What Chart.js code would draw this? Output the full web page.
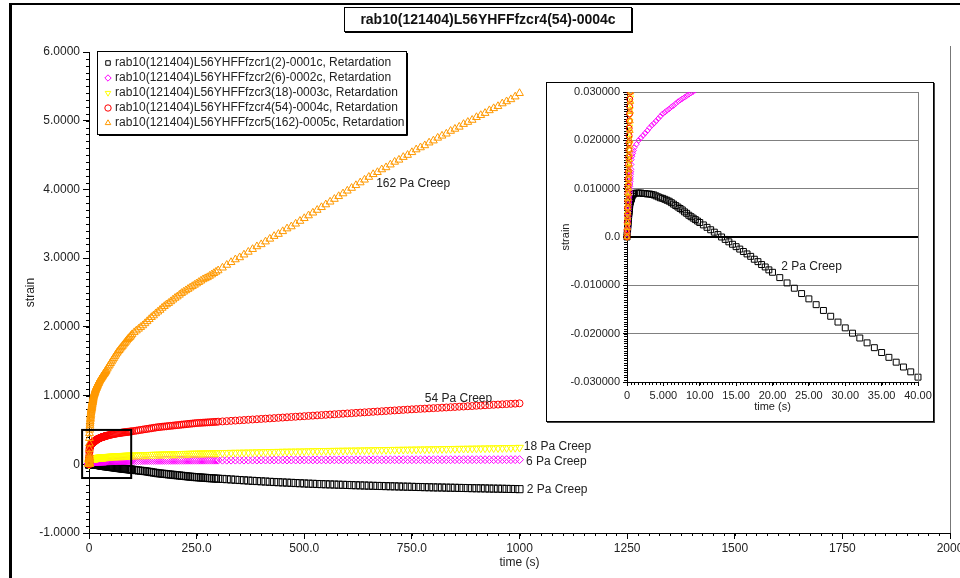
<!DOCTYPE html>
<html>
<head>
<meta charset="utf-8">
<script src="https://cdn.jsdelivr.net/npm/chart.js"></script>
<style>
  body { margin: 0; background: #fff; }
  #wrap { position: relative; width: 960px; height: 578px; overflow: hidden; background: #fff; }
  #frame { position: absolute; left: 9px; top: 3px; width: 980px; height: 600px;
           border-left: 3px solid #000; border-top: 2px solid #000; }
  #title { position: absolute; left: 344px; top: 7px; width: 286px; height: 23px;
           border: 1px solid #000; box-shadow: 1px 1px 0 #000; background: #fff;
           font: bold 14px "Liberation Sans", Arial, sans-serif; color: #111;
           text-align: center; line-height: 23px; }
  #main { position: absolute; left: 0; top: 0; }
  #insetBox { position: absolute; left: 546px; top: 82px; width: 386px; height: 338px;
              border: 1px solid #000; box-shadow: 1px 1px 0 #444; background: #fff; }
  #inset { position: absolute; left: 0; top: 0; }
</style>
</head>
<body>
<div id="wrap">
  <canvas id="main" width="960" height="578"></canvas>
  <div id="frame"></div>
  <div id="title">rab10(121404)L56YHFFfzcr4(54)-0004c</div>
  <div id="insetBox"><canvas id="inset" width="386" height="338"></canvas></div>
</div>
<script>
// time (s), shared by all five runs
const timeS = [0, 0.02, 0.04, 0.06, 0.08, 0.1, 0.12, 0.14, 0.16, 0.18, 0.2, 0.22, 0.24, 0.26, 0.28, 0.3,
  0.32, 0.34, 0.36, 0.38, 0.4, 0.42, 0.44, 0.46, 0.48, 0.5, 0.52, 0.54, 0.56, 0.58, 0.6,
  0.7, 0.8, 0.9, 1,
  1.3, 1.6, 1.9, 2.2, 2.5, 2.8, 3.1, 3.4, 3.7, 4, 4.3, 4.6, 4.9, 5.2, 5.5,
  5.8, 6.1, 6.4, 6.7, 7, 7.3, 7.6, 7.9, 8.2, 8.5, 8.8, 9.1, 9.4, 9.7, 10,
  10.5, 11, 11.5, 12, 12.5, 13, 13.5, 14, 14.5, 15, 15.5, 16, 16.5, 17, 17.5, 18, 18.5, 19, 19.5, 20,
  21, 22, 23, 24, 25, 26, 27, 28, 29, 30, 31, 32, 33, 34, 35, 36, 37, 38, 39, 40,
  42.5, 45, 47.5, 50, 52.5, 55, 57.5, 60, 62.5, 65, 67.5, 70, 72.5, 75, 77.5, 80, 82.5, 85, 87.5, 90, 92.5, 95, 97.5, 100,
  105, 110, 115, 120, 125, 130, 135, 140, 145, 150, 155, 160, 165, 170, 175, 180, 185, 190, 195, 200,
  205, 210, 215, 220, 225, 230, 235, 240, 245, 250, 255, 260, 265, 270, 275, 280, 285, 290, 295, 300,
  310, 320, 330, 340, 350, 360, 370, 380, 390, 400,
  410, 420, 430, 440, 450, 460, 470, 480, 490, 500,
  510, 520, 530, 540, 550, 560, 570, 580, 590, 600,
  610, 620, 630, 640, 650, 660, 670, 680, 690, 700,
  710, 720, 730, 740, 750, 760, 770, 780, 790, 800,
  810, 820, 830, 840, 850, 860, 870, 880, 890, 900,
  910, 920, 930, 940, 950, 960, 970, 980, 990, 1000];

const strain2 = [0, 0.0004, 0.0008, 0.0012, 0.0016, 0.002, 0.0024, 0.0028, 0.0032, 0.0036, 0.004, 0.0043, 0.0046, 0.0049, 0.0052, 0.0055,
  0.0058, 0.0061, 0.0064, 0.0067, 0.007, 0.0072, 0.0073, 0.0074, 0.0075, 0.0076, 0.0077, 0.0078, 0.0079, 0.008, 0.008,
  0.0084, 0.0087, 0.0089, 0.009,
  0.0091, 0.0091, 0.0091, 0.009, 0.009, 0.0089, 0.0089, 0.0088, 0.0087, 0.0085, 0.0083, 0.0081, 0.008, 0.0078, 0.0076,
  0.0074, 0.0071, 0.0068, 0.0065, 0.0062, 0.0059, 0.0056, 0.0052, 0.0049, 0.0045, 0.0042, 0.0039, 0.0036, 0.0033, 0.003,
  0.0025, 0.002, 0.0015, 0.001, 0.0005, 0, -0.0005, -0.001, -0.0015, -0.002, -0.0025, -0.003, -0.0035, -0.004, -0.0046, -0.0051, -0.0057, -0.0062, -0.0068, -0.0073,
  -0.0084, -0.0095, -0.0106, -0.0117, -0.0128, -0.014, -0.0152, -0.0164, -0.0176, -0.0188, -0.0199, -0.0209, -0.0219, -0.0229, -0.0239, -0.0249, -0.0259, -0.0269, -0.0279, -0.029,
  -0.0315, -0.034, -0.0365, -0.039, -0.041, -0.043, -0.045, -0.047, -0.0495, -0.052, -0.054, -0.056, -0.058, -0.06, -0.062, -0.064, -0.066, -0.068, -0.0695, -0.071, -0.073, -0.075, -0.0765, -0.078,
  -0.082, -0.086, -0.09, -0.094, -0.097, -0.1, -0.105, -0.11, -0.115, -0.12, -0.125, -0.13, -0.133, -0.137, -0.14, -0.143, -0.147, -0.15, -0.153, -0.157,
  -0.16, -0.163, -0.167, -0.17, -0.173, -0.177, -0.18, -0.183, -0.186, -0.188, -0.19, -0.193, -0.195, -0.197, -0.2, -0.202, -0.204, -0.206, -0.208, -0.21,
  -0.213, -0.217, -0.221, -0.225, -0.229, -0.233, -0.237, -0.241, -0.244, -0.248,
  -0.251, -0.255, -0.258, -0.261, -0.264, -0.267, -0.27, -0.273, -0.276, -0.279,
  -0.282, -0.284, -0.287, -0.289, -0.291, -0.293, -0.295, -0.297, -0.299, -0.301,
  -0.303, -0.305, -0.307, -0.309, -0.311, -0.313, -0.315, -0.316, -0.318, -0.32,
  -0.321, -0.323, -0.325, -0.326, -0.328, -0.33, -0.331, -0.333, -0.334, -0.336,
  -0.337, -0.338, -0.34, -0.341, -0.342, -0.344, -0.345, -0.346, -0.348, -0.349,
  -0.35, -0.351, -0.353, -0.354, -0.355, -0.356, -0.358, -0.359, -0.36, -0.362];

const strain6 = [0, 0.0005, 0.001, 0.0015, 0.002, 0.0025, 0.003, 0.0035, 0.004, 0.0045, 0.005, 0.0055, 0.006, 0.0065, 0.007, 0.0075,
  0.008, 0.0085, 0.009, 0.0095, 0.01, 0.0105, 0.011, 0.0115, 0.012, 0.0125, 0.013, 0.0135, 0.014, 0.015, 0.016,
  0.0167, 0.0173, 0.0179, 0.0185,
  0.0192, 0.02, 0.0205, 0.021, 0.0215, 0.022, 0.0226, 0.0231, 0.0235, 0.024, 0.0245, 0.025, 0.0255, 0.0258, 0.0262,
  0.0265, 0.0269, 0.0272, 0.0276, 0.028, 0.0283, 0.0286, 0.0289, 0.0292, 0.0295, 0.0298, 0.0301, 0.0304, 0.0307, 0.031,
  0.0315, 0.032, 0.0324, 0.0328, 0.0332, 0.0336, 0.034, 0.0343, 0.0347, 0.035, 0.0353, 0.0356, 0.0359, 0.0362, 0.0365, 0.0368, 0.0371, 0.0374, 0.0377, 0.038,
  0.0384, 0.0388, 0.0392, 0.0396, 0.04, 0.0404, 0.0408, 0.0412, 0.0416, 0.042, 0.0423, 0.0426, 0.0429, 0.0432, 0.0435, 0.0438, 0.0441, 0.0444, 0.0447, 0.045,
  0.0454, 0.0458, 0.0464, 0.047, 0.0475, 0.048, 0.0483, 0.0485, 0.0488, 0.049, 0.0495, 0.05, 0.0502, 0.0505, 0.0508, 0.051, 0.0513, 0.0515, 0.0518, 0.052, 0.0523, 0.0525, 0.0528, 0.053,
  0.0533, 0.0537, 0.054, 0.0543, 0.0547, 0.055, 0.0553, 0.0557, 0.056, 0.0562, 0.0563, 0.0565, 0.0567, 0.0568, 0.057, 0.0572, 0.0573, 0.0575, 0.0577, 0.0578,
  0.058, 0.0582, 0.0583, 0.0585, 0.0587, 0.0588, 0.059, 0.0591, 0.0592, 0.0593, 0.0594, 0.0595, 0.0596, 0.0597, 0.0598, 0.0599, 0.0599, 0.06, 0.06, 0.0601,
  0.0602, 0.0604, 0.0606, 0.0608, 0.061, 0.0612, 0.0614, 0.0616, 0.0618, 0.062,
  0.0621, 0.0622, 0.0624, 0.0625, 0.0626, 0.0628, 0.0629, 0.063, 0.0632, 0.0633,
  0.0634, 0.0636, 0.0637, 0.0638, 0.064, 0.0641, 0.0642, 0.0643, 0.0644, 0.0645,
  0.0646, 0.0647, 0.0648, 0.0649, 0.065, 0.0651, 0.0652, 0.0653, 0.0654, 0.0655,
  0.0656, 0.0657, 0.0658, 0.0659, 0.066, 0.066, 0.0661, 0.0662, 0.0662, 0.0663,
  0.0664, 0.0664, 0.0665, 0.0666, 0.0666, 0.0667, 0.0668, 0.0668, 0.0669, 0.0669,
  0.067, 0.067, 0.0671, 0.0671, 0.0672, 0.0672, 0.0673, 0.0673, 0.0674, 0.0674];

const strain18 = [0, 0.0012, 0.0024, 0.0036, 0.0048, 0.006, 0.0072, 0.0084, 0.0096, 0.0108, 0.012, 0.0132, 0.0144, 0.0156, 0.0168, 0.018,
  0.0192, 0.0204, 0.0216, 0.0228, 0.024, 0.0252, 0.0264, 0.0276, 0.0288, 0.03, 0.033, 0.036, 0.04, 0.045, 0.05,
  0.055, 0.058, 0.062, 0.065,
  0.068, 0.07, 0.072, 0.073, 0.074, 0.075, 0.076, 0.077, 0.0775, 0.078, 0.0785, 0.079, 0.08, 0.0803, 0.0806,
  0.081, 0.0815, 0.082, 0.0825, 0.083, 0.0834, 0.0838, 0.0845, 0.085, 0.0853, 0.0856, 0.086, 0.0863, 0.0866, 0.087,
  0.0875, 0.088, 0.0885, 0.089, 0.0895, 0.09, 0.0905, 0.091, 0.0915, 0.092, 0.0925, 0.093, 0.0935, 0.094, 0.094, 0.0945, 0.095, 0.095, 0.0955, 0.096,
  0.097, 0.097, 0.098, 0.099, 0.1, 0.1, 0.101, 0.102, 0.102, 0.103, 0.104, 0.104, 0.105, 0.105, 0.106, 0.106, 0.107, 0.107, 0.108, 0.109,
  0.11, 0.111, 0.113, 0.114, 0.115, 0.116, 0.117, 0.118, 0.119, 0.12, 0.121, 0.122, 0.123, 0.124, 0.1245, 0.125, 0.126, 0.127, 0.1275, 0.128, 0.1285, 0.129, 0.1295, 0.13,
  0.131, 0.132, 0.134, 0.135, 0.136, 0.137, 0.138, 0.139, 0.14, 0.141, 0.142, 0.143, 0.144, 0.145, 0.146, 0.147, 0.148, 0.149, 0.15, 0.15,
  0.151, 0.152, 0.153, 0.154, 0.155, 0.155, 0.156, 0.157, 0.157, 0.158, 0.159, 0.16, 0.161, 0.161, 0.162, 0.163, 0.164, 0.164, 0.165, 0.166,
  0.167, 0.168, 0.17, 0.171, 0.172, 0.174, 0.175, 0.176, 0.178, 0.179,
  0.18, 0.182, 0.183, 0.184, 0.186, 0.187, 0.188, 0.189, 0.19, 0.191,
  0.193, 0.194, 0.195, 0.196, 0.197, 0.198, 0.199, 0.2, 0.201, 0.202,
  0.203, 0.204, 0.205, 0.206, 0.207, 0.208, 0.209, 0.21, 0.211, 0.212,
  0.213, 0.214, 0.215, 0.216, 0.217, 0.218, 0.219, 0.22, 0.221, 0.222,
  0.223, 0.224, 0.225, 0.226, 0.227, 0.228, 0.229, 0.23, 0.231, 0.232,
  0.233, 0.234, 0.235, 0.236, 0.237, 0.238, 0.239, 0.24, 0.241, 0.243];

const strain54 = [0, 0.0015, 0.003, 0.0045, 0.006, 0.0075, 0.009, 0.0105, 0.012, 0.0135, 0.015, 0.0165, 0.018, 0.0195, 0.021, 0.0225,
  0.024, 0.0255, 0.027, 0.0285, 0.03, 0.035, 0.04, 0.045, 0.05, 0.055, 0.06, 0.065, 0.07, 0.075, 0.08,
  0.1, 0.13, 0.17, 0.2,
  0.22, 0.235, 0.245, 0.252, 0.258, 0.264, 0.268, 0.272, 0.276, 0.28, 0.283, 0.286, 0.289, 0.291, 0.293,
  0.295, 0.297, 0.299, 0.301, 0.303, 0.305, 0.307, 0.309, 0.311, 0.313, 0.315, 0.316, 0.317, 0.319, 0.32,
  0.3225, 0.325, 0.3275, 0.33, 0.3325, 0.335, 0.3375, 0.34, 0.3425, 0.345, 0.3475, 0.35, 0.3525, 0.355, 0.3575, 0.36, 0.3615, 0.363, 0.3645, 0.366,
  0.369, 0.372, 0.375, 0.378, 0.381, 0.384, 0.387, 0.39, 0.392, 0.394, 0.396, 0.398, 0.4, 0.402, 0.404, 0.406, 0.408, 0.41, 0.412, 0.414,
  0.418, 0.422, 0.426, 0.43, 0.434, 0.437, 0.44, 0.443, 0.446, 0.449, 0.452, 0.454, 0.457, 0.459, 0.462, 0.464, 0.466, 0.468, 0.47, 0.472, 0.474, 0.476, 0.478, 0.48,
  0.485, 0.49, 0.495, 0.5, 0.505, 0.51, 0.515, 0.52, 0.525, 0.53, 0.535, 0.54, 0.543, 0.547, 0.55, 0.553, 0.557, 0.56, 0.563, 0.567,
  0.57, 0.573, 0.577, 0.58, 0.583, 0.587, 0.59, 0.593, 0.597, 0.6, 0.602, 0.604, 0.606, 0.608, 0.61, 0.612, 0.614, 0.616, 0.618, 0.62,
  0.624, 0.628, 0.632, 0.636, 0.64, 0.644, 0.648, 0.652, 0.656, 0.66,
  0.664, 0.668, 0.672, 0.676, 0.68, 0.684, 0.688, 0.692, 0.696, 0.7,
  0.704, 0.708, 0.712, 0.716, 0.72, 0.724, 0.728, 0.732, 0.736, 0.74,
  0.744, 0.748, 0.752, 0.756, 0.76, 0.764, 0.768, 0.772, 0.776, 0.78,
  0.784, 0.788, 0.792, 0.796, 0.8, 0.803, 0.807, 0.81, 0.814, 0.817,
  0.82, 0.824, 0.827, 0.831, 0.834, 0.838, 0.841, 0.845, 0.848, 0.852,
  0.855, 0.859, 0.862, 0.866, 0.869, 0.873, 0.876, 0.88, 0.883, 0.887];

const strain162 = [0, 0.001, 0.002, 0.003, 0.004, 0.005, 0.006, 0.007, 0.008, 0.009, 0.01, 0.011, 0.012, 0.013, 0.014, 0.015,
  0.016, 0.017, 0.018, 0.019, 0.02, 0.022, 0.024, 0.026, 0.028, 0.03, 0.04, 0.055, 0.07, 0.09, 0.11,
  0.15, 0.22, 0.3, 0.38,
  0.45, 0.5, 0.54, 0.57, 0.6, 0.625, 0.65, 0.67, 0.69, 0.71, 0.73, 0.75, 0.765, 0.78, 0.795,
  0.81, 0.82, 0.83, 0.845, 0.86, 0.87, 0.88, 0.895, 0.905, 0.915, 0.925, 0.935, 0.945, 0.96, 0.97,
  0.985, 1.0, 1.01, 1.02, 1.03, 1.04, 1.05, 1.06, 1.07, 1.08, 1.09, 1.1, 1.105, 1.11, 1.12, 1.13, 1.135, 1.14, 1.15, 1.16,
  1.17, 1.18, 1.19, 1.21, 1.22, 1.23, 1.24, 1.25, 1.26, 1.27, 1.28, 1.29, 1.3, 1.31, 1.315, 1.325, 1.335, 1.345, 1.355, 1.37,
  1.39, 1.42, 1.445, 1.47, 1.495, 1.52, 1.545, 1.57, 1.595, 1.62, 1.64, 1.66, 1.68, 1.7, 1.72, 1.74, 1.76, 1.78, 1.8, 1.82, 1.835, 1.85, 1.87, 1.89,
  1.92, 1.945, 1.97, 1.995, 2.02, 2.05, 2.08, 2.11, 2.14, 2.165, 2.195, 2.22, 2.245, 2.275, 2.3, 2.325, 2.345, 2.37, 2.395, 2.42,
  2.44, 2.465, 2.49, 2.51, 2.53, 2.55, 2.57, 2.59, 2.61, 2.63, 2.65, 2.67, 2.69, 2.705, 2.72, 2.74, 2.76, 2.78, 2.8, 2.82,
  2.86, 2.9, 2.94, 2.98, 3.01, 3.05, 3.09, 3.13, 3.17, 3.2,
  3.24, 3.28, 3.32, 3.35, 3.39, 3.43, 3.46, 3.5, 3.54, 3.58,
  3.62, 3.66, 3.7, 3.74, 3.78, 3.82, 3.86, 3.9, 3.94, 3.98,
  4.02, 4.06, 4.1, 4.14, 4.18, 4.22, 4.25, 4.29, 4.32, 4.36,
  4.4, 4.43, 4.47, 4.5, 4.54, 4.58, 4.61, 4.64, 4.68, 4.71,
  4.75, 4.78, 4.81, 4.85, 4.88, 4.91, 4.95, 4.98, 5.01, 5.05,
  5.08, 5.11, 5.15, 5.18, 5.21, 5.25, 5.28, 5.31, 5.35, 5.4];

const seriesNames = [
  "rab10(121404)L56YHFFfzcr1(2)-0001c, Retardation",
  "rab10(121404)L56YHFFfzcr2(6)-0002c, Retardation",
  "rab10(121404)L56YHFFfzcr3(18)-0003c, Retardation",
  "rab10(121404)L56YHFFfzcr4(54)-0004c, Retardation",
  "rab10(121404)L56YHFFfzcr5(162)-0005c, Retardation",
];
const seriesValues = [strain2, strain6, strain18, strain54, strain162];

const xTickText = ["0", "250.0", "500.0", "750.0", "1000", "1250", "1500", "1750", "2000"];
const yTickText = ["-1.0000", "0", "1.0000", "2.0000", "3.0000", "4.0000", "5.0000", "6.0000"];
const insetXTickText = ["0", "5.000", "10.00", "15.00", "20.00", "25.00", "30.00", "35.00", "40.00"];
const insetYTickText = ["-0.030000", "-0.020000", "-0.010000", "0.0", "0.010000", "0.020000", "0.030000"];

const noteText = ["162 Pa Creep", "54 Pa Creep", "18 Pa Creep", "6 Pa Creep", "2 Pa Creep"];
const noteTime = [667, 780, 1010, 1015, 1017];
const noteStrain = [4.09, 0.96, 0.262, 0.044, -0.364];
const insetNoteText = ["2 Pa Creep"];
const insetNoteTime = [21.2];
const insetNoteStrain = [-0.0062];

// styles
const colors = ["#000000", "#ff00ff", "#ffff00", "#ff0000", "#ff9900"];
const shapes = ["rect", "rectRot", "triangle", "circle", "triangle"];
const rotations = [0, 0, 180, 0, 0];
const mainRadius = [5, 4, 4.5, 3.5, 4.5];
const insetRadius = [4.2, 2.8, 3.6, 3, 3.6];

const FONT = '"Liberation Sans", Arial, sans-serif';
Chart.defaults.font.family = FONT;
Chart.defaults.color = "#222";

const makeDatasets = (radius, clip) =>
  seriesValues.map((vals, i) => ({
    label: seriesNames[i],
    data: timeS.map((t, k) => ({ x: t, y: vals[k] })),
    showLine: false,
    clip: clip,
    pointStyle: shapes[i],
    pointRotation: rotations[i],
    pointRadius: radius[i],
    pointHoverRadius: radius[i],
    pointBorderWidth: 1,
    borderColor: colors[i],
    backgroundColor: "rgba(255,255,255,0)",
    order: 5 - i,
  }));

// small ticks between the labelled ones
const minorTicks = {
  id: "minorTicks",
  beforeDatasetsDraw(chart, args, opts) {
    const { ctx } = chart;
    const x = chart.scales.x, y = chart.scales.y;
    ctx.save();
    ctx.strokeStyle = "#000";
    ctx.lineWidth = 1;
    ctx.beginPath();
    const nx = Math.round((x.max - x.min) / opts.xStep);
    for (let k = 0; k <= nx; k++) {
      const px = Math.round(x.getPixelForValue(x.min + k * opts.xStep)) + 0.5;
      ctx.moveTo(px, x.top);
      ctx.lineTo(px, x.top + opts.len);
    }
    const ny = Math.round((y.max - y.min) / opts.yStep);
    for (let k = 0; k <= ny; k++) {
      const py = Math.round(y.getPixelForValue(y.min + k * opts.yStep)) + 0.5;
      ctx.moveTo(y.right - opts.len, py);
      ctx.lineTo(y.right, py);
    }
    ctx.stroke();
    ctx.restore();
  },
};

const notes = {
  id: "notes",
  afterDatasetsDraw(chart, args, opts) {
    const { ctx } = chart;
    const x = chart.scales.x, y = chart.scales.y;
    ctx.save();
    ctx.font = "12px " + FONT;
    ctx.fillStyle = "#222";
    ctx.textBaseline = "middle";
    opts.text.forEach((txt, i) => {
      ctx.fillText(txt, x.getPixelForValue(opts.t[i]), y.getPixelForValue(opts.s[i]));
    });
    // right edge of the plot
    ctx.strokeStyle = opts.edgeColor;
    ctx.lineWidth = 1;
    ctx.beginPath();
    const rx = Math.round(chart.chartArea.right) + 0.5;
    ctx.moveTo(rx, chart.chartArea.top - opts.edgeTop);
    ctx.lineTo(rx, chart.chartArea.bottom);
    ctx.stroke();
    ctx.restore();
  },
};

const zoomBox = {
  id: "zoomBox",
  afterDatasetsDraw(chart) {
    const { ctx } = chart;
    const x = chart.scales.x, y = chart.scales.y;
    const l = x.getPixelForValue(-16), r = x.getPixelForValue(98);
    const t = y.getPixelForValue(0.5), b = y.getPixelForValue(-0.2);
    ctx.save();
    ctx.strokeStyle = "#000";
    ctx.lineWidth = 2;
    ctx.strokeRect(l, t, r - l, b - t);
    ctx.restore();
  },
};

const boxLegend = {
  id: "boxLegend",
  afterDraw(chart) {
    const { ctx } = chart;
    const bx = 97, by = 51, bw = 309, bh = 83;
    ctx.save();
    ctx.fillStyle = "#fff";
    ctx.fillRect(bx, by, bw, bh);
    ctx.strokeStyle = "#000";
    ctx.lineWidth = 1;
    ctx.strokeRect(bx + 0.5, by + 0.5, bw, bh);
    ctx.beginPath();
    ctx.moveTo(bx + 2, by + bh + 1.5);
    ctx.lineTo(bx + bw + 1.5, by + bh + 1.5);
    ctx.lineTo(bx + bw + 1.5, by + 2);
    ctx.stroke();
    ctx.font = "12px " + FONT;
    ctx.textBaseline = "middle";
    chart.data.datasets.forEach((ds, i) => {
      const cy = by + 12 + i * 15;
      ctx.strokeStyle = ds.borderColor;
      ctx.fillStyle = "rgba(255,255,255,0)";
      Chart.helpers.drawPoint(ctx, { pointStyle: ds.pointStyle, rotation: ds.pointRotation, radius: 3.2, borderWidth: 1 }, 108, cy);
      ctx.fillStyle = "#222";
      ctx.fillText(ds.label, 115, cy);
    });
    ctx.restore();
  },
};

new Chart("main", {
  type: "scatter",
  data: { datasets: makeDatasets(mainRadius, false) },
  plugins: [minorTicks, notes, zoomBox, boxLegend],
  options: {
    responsive: false,
    animation: false,
    layout: { padding: { left: 10, top: 52, right: 10, bottom: 0 } },
    scales: {
      x: {
        type: "linear",
        min: 0,
        max: 2000,
        border: { color: "#000", width: 1 },
        grid: { drawOnChartArea: false, tickLength: 6, tickColor: "#000" },
        ticks: {
          stepSize: 250,
          autoSkip: false,
          maxRotation: 0,
          padding: 2,
          font: { size: 12 },
          callback: (v) => xTickText[Math.round(v / 250)],
        },
        title: { display: true, text: "time (s)", font: { size: 12 }, padding: { top: 0, bottom: 8 } },
        afterFit: (s) => {
          s.height = 45;
          s.paddingLeft = 0;
          s.paddingRight = 0;
        },
      },
      y: {
        type: "linear",
        min: -1,
        max: 6,
        border: { color: "#000", width: 1 },
        grid: { drawOnChartArea: false, tickLength: 6, tickColor: "#000" },
        ticks: {
          stepSize: 1,
          padding: 3,
          font: { size: 12 },
          callback: (v) => yTickText[Math.round(v) + 1],
        },
        title: { display: true, text: "strain", font: { size: 12 }, padding: { top: 13, bottom: 0 } },
        afterFit: (s) => {
          s.width = 79;
          s.paddingTop = 0;
          s.paddingBottom = 0;
        },
      },
    },
    plugins: {
      legend: { display: false },
      tooltip: { enabled: false },
      minorTicks: { xStep: 25, yStep: 0.1, len: 3 },
      notes: { text: noteText, t: noteTime, s: noteStrain, edgeColor: "#777", edgeTop: 6 },
    },
  },
});

new Chart("inset", {
  type: "scatter",
  data: { datasets: makeDatasets(insetRadius, { left: 6, top: 0, right: 4, bottom: 0 }) },
  plugins: [minorTicks, notes],
  options: {
    responsive: false,
    animation: false,
    layout: { padding: { left: 4, top: 9, right: 15, bottom: 0 } },
    scales: {
      x: {
        type: "linear",
        min: 0,
        max: 40,
        border: { color: "#000", width: 1 },
        grid: { drawOnChartArea: false, tickLength: 4, tickColor: "#000" },
        ticks: {
          stepSize: 5,
          autoSkip: false,
          maxRotation: 0,
          padding: 3,
          font: { size: 11 },
          callback: (v) => insetXTickText[Math.round(v / 5)],
        },
        title: { display: true, text: "time (s)", font: { size: 11 }, padding: { top: 0, bottom: 7 } },
        afterFit: (s) => {
          s.height = 39;
          s.paddingLeft = 0;
          s.paddingRight = 0;
        },
      },
      y: {
        type: "linear",
        min: -0.03,
        max: 0.03,
        border: { color: "#000", width: 1 },
        grid: {
          tickLength: 4,
          tickColor: "#000",
          color: (c) => (Math.abs(c.tick.value) < 1e-9 ? "#000" : "#808080"),
          lineWidth: (c) => (Math.abs(c.tick.value) < 1e-9 ? 2 : 1),
        },
        ticks: {
          stepSize: 0.01,
          padding: 3,
          font: { size: 11 },
          callback: (v) => insetYTickText[Math.round(v * 100) + 3],
        },
        title: { display: true, text: "strain", font: { size: 11 }, padding: { top: 8, bottom: 0 } },
        afterFit: (s) => {
          s.width = 76;
          s.paddingTop = 0;
          s.paddingBottom = 0;
        },
      },
    },
    plugins: {
      legend: { display: false },
      tooltip: { enabled: false },
      minorTicks: { xStep: 0.5, yStep: 0.0005, len: 3 },
      notes: { text: insetNoteText, t: insetNoteTime, s: insetNoteStrain, edgeColor: "#808080", edgeTop: 0 },
    },
  },
});
</script>
</body>
</html>
